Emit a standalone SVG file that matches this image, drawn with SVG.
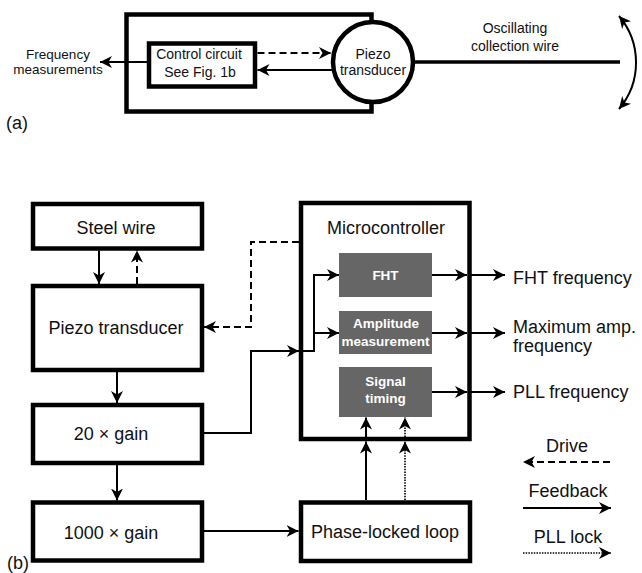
<svg xmlns="http://www.w3.org/2000/svg" width="642" height="573" viewBox="0 0 642 573">
<defs>
<marker id="ah" markerUnits="userSpaceOnUse" markerWidth="13" markerHeight="13" refX="12" refY="6.5" orient="auto-start-reverse" viewBox="0 0 13 13">
<path d="M0,0.5 L12,6.5 L0,12.5 L3.5,6.5 Z" fill="#000"/>
</marker>
</defs>
<style>
text{font-family:"Liberation Sans",Arial,sans-serif;fill:#111}
.box{fill:#fff;stroke:#000;stroke-width:4.5}
.gbox{fill:#666;stroke:none}
.c{fill:none;stroke:#000;stroke-width:2}
.d{stroke-dasharray:7,4}
.p{stroke-dasharray:1.5,1.2;stroke-width:1.6}
.m{font-size:18px}
.s{font-size:14px}
.w{fill:#fff;font-weight:bold;font-size:13.5px}
.mid{text-anchor:middle}
</style>
<rect width="642" height="573" fill="#fff"/>

<!-- (a) -->
<g id="a-housing"><rect class="box" x="126.5" y="14.5" width="245" height="97"/></g>
<g id="a-control"><rect class="box" x="149" y="43.5" width="106" height="43"/>
<text class="s mid" x="199" y="59">Control circuit</text>
<text class="s mid" x="200" y="77">See Fig. 1b</text></g>
<g id="a-piezo"><circle class="box" cx="373" cy="62" r="40"/>
<text class="s mid" x="373" y="59">Piezo</text>
<text class="s mid" x="373" y="75">transducer</text></g>
<g id="a-freq"><text class="mid" font-size="13.5" x="58" y="59">Frequency</text>
<text class="mid" font-size="13.5" x="58" y="74">measurements</text></g>
<g id="a-wire"><line x1="414" y1="62" x2="620" y2="62" stroke="#000" stroke-width="3.5"/>
<text class="s mid" x="515" y="33">Oscillating</text>
<text class="s mid" x="515" y="51">collection wire</text></g>
<text x="6" y="129" font-size="18">(a)</text>

<g id="a-connectors">
<line class="c d" x1="257.5" y1="53" x2="331" y2="53" marker-end="url(#ah)"/>
<line class="c" x1="332" y1="70" x2="257.5" y2="70" marker-end="url(#ah)"/>
<line class="c" x1="147" y1="62" x2="100" y2="62" marker-end="url(#ah)"/>
<path class="c" d="M619,16 A72,72 0 0 1 619,109" marker-start="url(#ah)" marker-end="url(#ah)"/>
</g>

<!-- (b) -->
<g id="steel"><rect class="box" x="33" y="204" width="169" height="44.5"/>
<text class="m mid" x="116" y="234">Steel wire</text></g>
<g id="piezo"><rect class="box" x="33" y="286" width="169" height="84"/>
<text class="m mid" x="116" y="334">Piezo transducer</text></g>
<g id="gain20"><rect class="box" x="33" y="405" width="169" height="58"/>
<text class="m mid" x="111" y="440">20 × gain</text></g>
<g id="gain1000"><rect class="box" x="33" y="502.5" width="169" height="58"/>
<text class="m mid" x="111" y="539">1000 × gain</text></g>
<g id="micro"><rect class="box" x="301" y="203" width="168.5" height="236"/>
<text class="m mid" x="386" y="234">Microcontroller</text></g>
<g id="fht"><rect class="gbox" x="339" y="253" width="93" height="44"/>
<text class="w mid" x="385.5" y="280">FHT</text></g>
<g id="amp"><rect class="gbox" x="339" y="311" width="93" height="43"/>
<text class="w mid" x="386" y="328">Amplitude</text>
<text class="w mid" x="385.5" y="346">measurement</text></g>
<g id="sig"><rect class="gbox" x="339" y="367" width="93" height="50"/>
<text class="w mid" x="385.5" y="386">Signal</text>
<text class="w mid" x="385.5" y="403">timing</text></g>
<g id="pll"><rect class="box" x="301" y="502.5" width="169" height="58.5"/>
<text class="m mid" x="385" y="538">Phase-locked loop</text></g>
<g id="outputs">
<text class="m" x="513" y="284">FHT frequency</text>
<text class="m" x="513" y="333">Maximum amp.</text>
<text class="m" x="513" y="352">frequency</text>
<text class="m" x="513" y="398">PLL frequency</text>
</g>
<text x="7" y="569" font-size="18">(b)</text>

<g id="connectors">
<line class="c" x1="99" y1="250.5" x2="99" y2="284" marker-end="url(#ah)"/>
<line class="c d" x1="137" y1="284" x2="137" y2="250.5" marker-end="url(#ah)"/>
<line class="c" x1="117" y1="372" x2="117" y2="403" marker-end="url(#ah)"/>
<line class="c" x1="117" y1="465" x2="117" y2="500.5" marker-end="url(#ah)"/>
<line class="c" x1="204" y1="531" x2="298.5" y2="531" marker-end="url(#ah)"/>
<polyline class="c" points="204,433 251,433 251,351 299,351" marker-end="url(#ah)"/>
<polyline class="c" points="299,351 314,351 314,275 339,275" marker-end="url(#ah)"/>
<line class="c" x1="314" y1="333" x2="339" y2="333" marker-end="url(#ah)"/>
<polyline class="c d" points="299,242 251,242 251,327 204,327" marker-end="url(#ah)"/>
<line class="c" x1="432" y1="275" x2="467" y2="275" marker-end="url(#ah)"/>
<line class="c" x1="471" y1="275" x2="505" y2="275" marker-end="url(#ah)"/>
<line class="c" x1="432" y1="333" x2="467" y2="333" marker-end="url(#ah)"/>
<line class="c" x1="471" y1="333" x2="505" y2="333" marker-end="url(#ah)"/>
<line class="c" x1="432" y1="392" x2="467" y2="392" marker-end="url(#ah)"/>
<line class="c" x1="471" y1="392" x2="505" y2="392" marker-end="url(#ah)"/>
<line class="c" x1="366" y1="500" x2="366" y2="441.5" marker-end="url(#ah)"/>
<line class="c" x1="366" y1="437" x2="366" y2="417.5" marker-end="url(#ah)"/>
<line class="c p" x1="405" y1="500" x2="405" y2="441.5" marker-end="url(#ah)"/>
<line class="c p" x1="405" y1="437" x2="405" y2="417.5" marker-end="url(#ah)"/>
</g>

<g id="legend">
<text class="m mid" x="567" y="452">Drive</text>
<line class="c d" x1="610" y1="462" x2="523" y2="462" marker-end="url(#ah)"/>
<text class="m mid" x="568" y="497">Feedback</text>
<line class="c" x1="523" y1="508" x2="611" y2="508" marker-end="url(#ah)"/>
<text class="m mid" x="568" y="543">PLL lock</text>
<line class="c p" x1="523" y1="553" x2="611" y2="553" marker-end="url(#ah)"/>
</g>
</svg>
